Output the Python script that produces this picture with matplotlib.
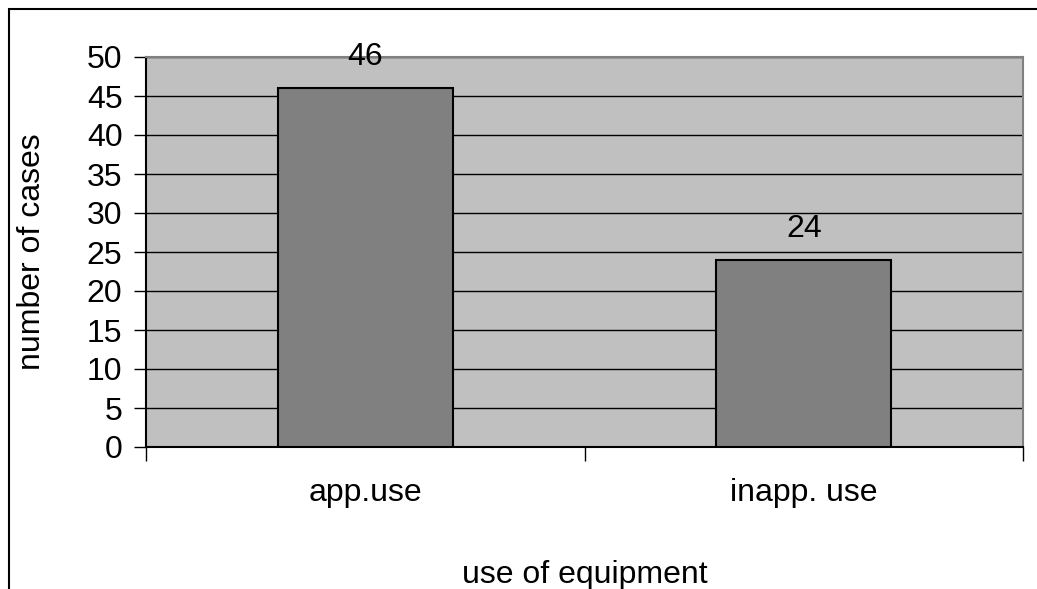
import matplotlib
matplotlib.use("Agg")
import matplotlib.pyplot as plt
from matplotlib.patches import Rectangle
from matplotlib.transforms import blended_transform_factory

categories = ["app.use", "inapp. use"]
cases = [46, 24]
yticks = list(range(0, 55, 5))

plt.rcParams["font.family"] = ["Liberation Sans", "DejaVu Sans"]
W, H = 1037, 589
FS = 23
fig = plt.figure(figsize=(W / 100, H / 100), dpi=100)
fig.patches.append(Rectangle((9 / W, -0.1), 1.2, 1 - 9 / H + 0.1, transform=fig.transFigure,
                             fill=False, edgecolor="black", linewidth=1.5))

ax = fig.add_axes([146 / W, 1 - 447 / H, (1023 - 146) / W, (447 - 57) / H])
ax.set_facecolor("#c0c0c0")
x = list(range(len(categories)))
ax.bar(x, cases, width=0.4, color="#808080", edgecolor="black", linewidth=1.5, zorder=3)
for xi, v in zip(x, cases):
    ax.text(xi, v + 4, str(v), ha="center", va="center", fontsize=FS, zorder=4)

ax.set_xlim(-0.5, 1.5)
ax.set_ylim(0, 50)
ax.set_yticks(yticks)
ax.tick_params(axis="y", labelsize=FS, length=9, width=1, direction="out", pad=8)
ax.yaxis.grid(True, color="black", linewidth=1)
ax.set_axisbelow(True)

ax.set_xticks([-0.5, 0.5, 1.5])
ax.set_xticklabels([])
ax.tick_params(axis="x", length=10, width=1, direction="out")
tr = blended_transform_factory(ax.transData, fig.transFigure)
for xi, c in zip(x, categories):
    ax.text(xi, 1 - 493 / H, c, transform=tr, ha="center", va="center", fontsize=FS)

ax.spines["left"].set_color("black")
ax.spines["bottom"].set_color("black")
ax.spines["top"].set_color("#808080")
ax.spines["right"].set_color("#808080")
for s in ax.spines.values():
    s.set_linewidth(1.5)

fig.text(32 / W, 1 - 252 / H, "number of cases", rotation=90, ha="center", va="center", fontsize=FS)
fig.text((146 + 1023) / 2 / W, 1 - 575 / H, "use of equipment", ha="center", va="center", fontsize=FS)

fig.savefig("out.png", dpi=100)
